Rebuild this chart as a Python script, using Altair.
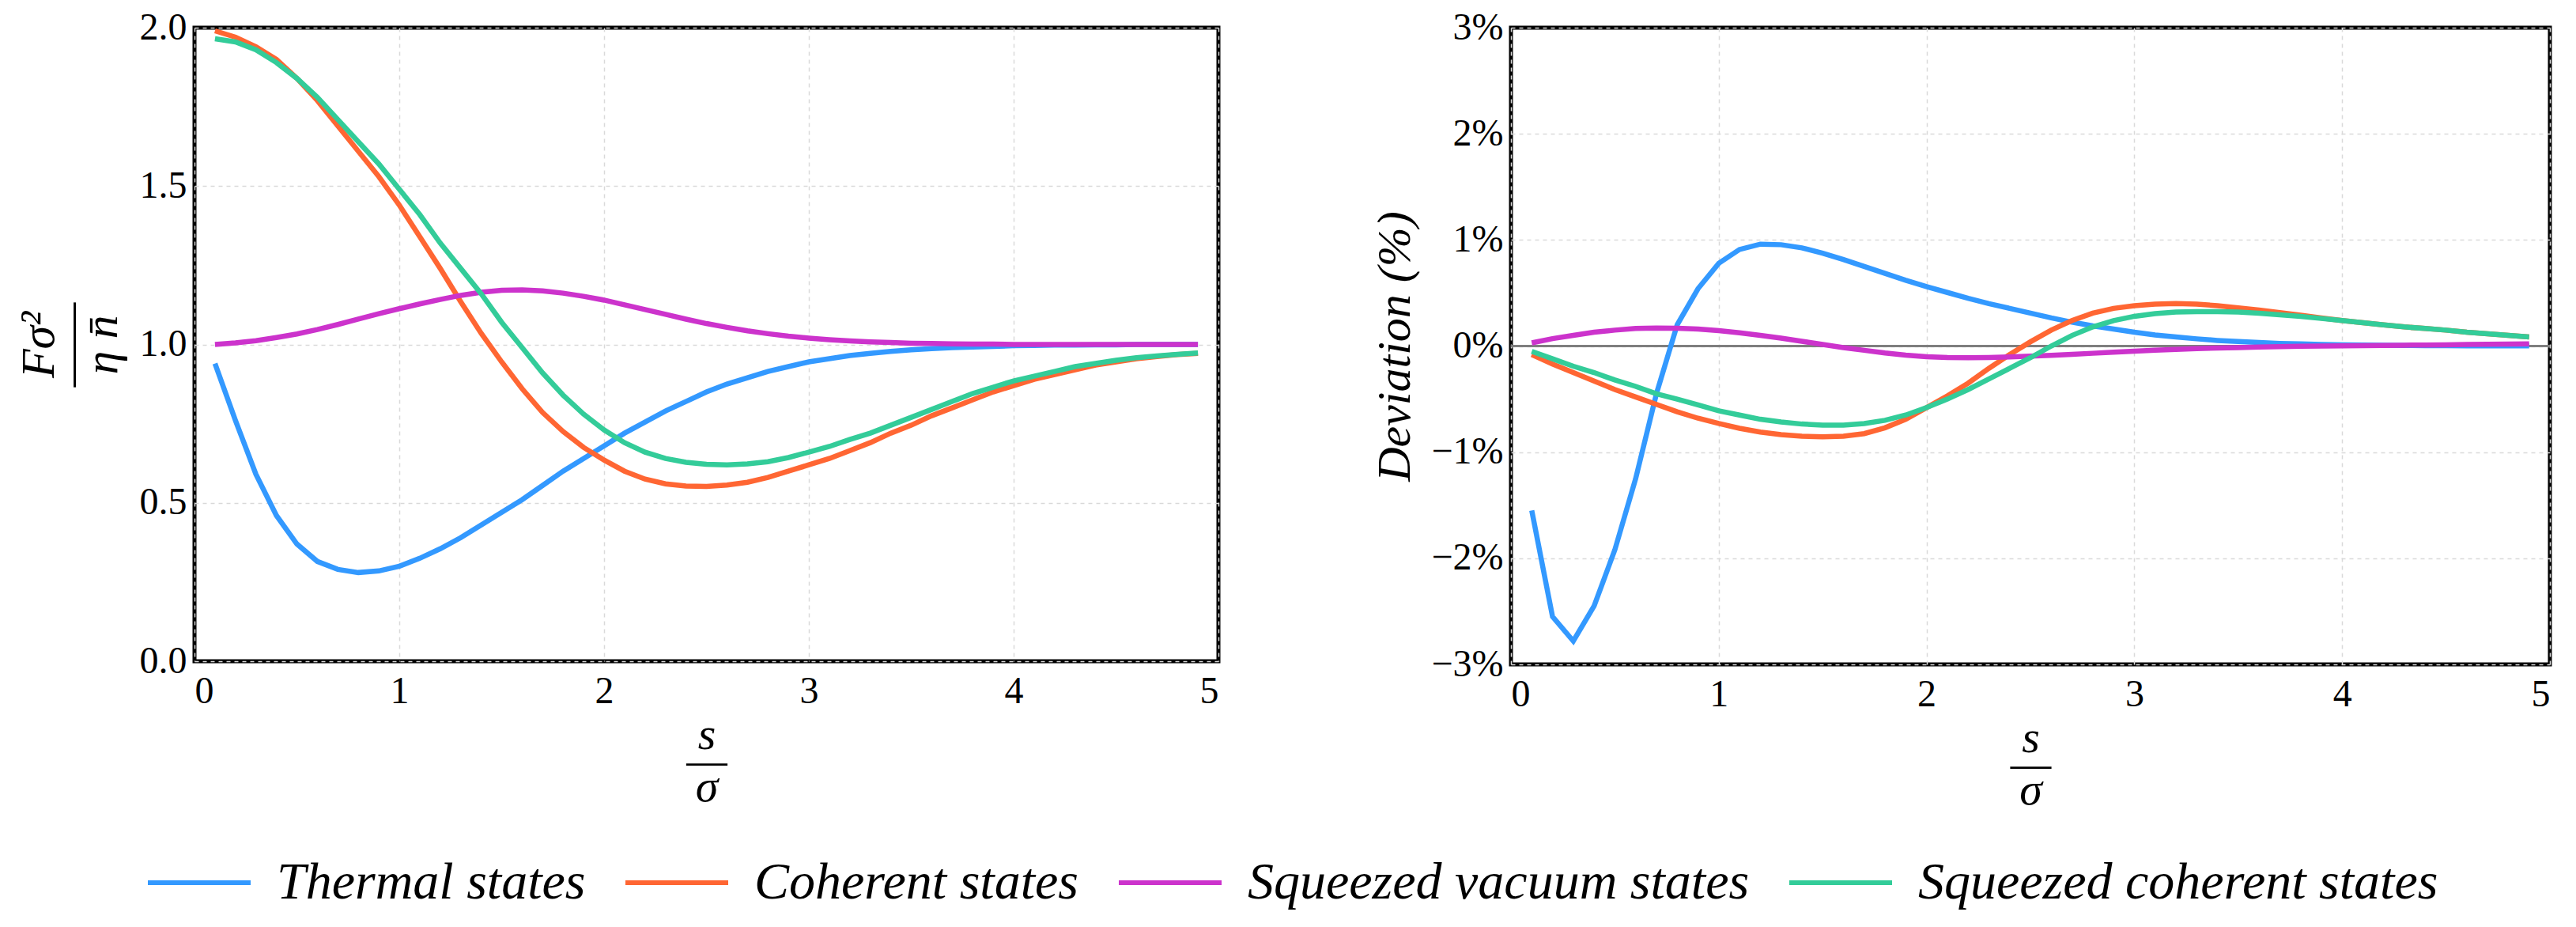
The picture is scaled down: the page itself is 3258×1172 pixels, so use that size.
import altair as alt
import pandas as pd

# s / sigma sample points
s_vals = [round(0.1 * i, 1) for i in range(1, 50)]

states = ["Thermal states", "Coherent states", "Squeezed vacuum states",
          "Squeezed coherent states"]
palette = ["#3399ff", "#ff6633", "#cc33cc", "#33cc99"]

# left panel: F sigma^2 / (eta nbar)
fisher_thermal = [
    0.94, 0.76, 0.59, 0.46, 0.37, 0.315, 0.29, 0.28, 0.285, 0.30,
    0.325, 0.355, 0.39, 0.43, 0.47, 0.51, 0.555, 0.60, 0.64, 0.68,
    0.72, 0.755, 0.79, 0.82, 0.85, 0.875, 0.895, 0.915, 0.93, 0.945,
    0.955, 0.965, 0.972, 0.978, 0.983, 0.987, 0.99, 0.992, 0.994, 0.996,
    0.997, 0.998, 0.998, 0.999, 0.999, 1.0, 1.0, 1.0, 1.0]
fisher_coherent = [
    1.99, 1.97, 1.94, 1.90, 1.84, 1.77, 1.69, 1.61, 1.53, 1.44,
    1.34, 1.24, 1.135, 1.035, 0.945, 0.86, 0.785, 0.725, 0.675, 0.635,
    0.60, 0.575, 0.56, 0.553, 0.552, 0.556, 0.565, 0.58, 0.60, 0.62,
    0.64, 0.665, 0.69, 0.72, 0.745, 0.775, 0.80, 0.825, 0.85, 0.87,
    0.89, 0.905, 0.92, 0.935, 0.945, 0.955, 0.962, 0.968, 0.972]
fisher_sq_vacuum = [
    1.0, 1.005, 1.012, 1.022, 1.033, 1.047, 1.063, 1.08, 1.097, 1.113,
    1.128, 1.142, 1.155, 1.165, 1.171, 1.172, 1.169, 1.162, 1.152, 1.14,
    1.125, 1.11, 1.095, 1.08, 1.066, 1.054, 1.043, 1.034, 1.026, 1.02,
    1.015, 1.011, 1.008, 1.006, 1.004, 1.003, 1.002, 1.001, 1.001, 1.0,
    1.0, 1.0, 1.0, 1.0, 1.0, 1.0, 1.0, 1.0, 1.0]
fisher_sq_coherent = [
    1.965, 1.955, 1.93, 1.89, 1.84, 1.78, 1.71, 1.64, 1.57, 1.49,
    1.41, 1.32, 1.24, 1.16, 1.07, 0.99, 0.91, 0.84, 0.78, 0.73,
    0.69, 0.66, 0.64, 0.628, 0.622, 0.62, 0.623, 0.63, 0.643, 0.66,
    0.678, 0.70, 0.72, 0.745, 0.77, 0.795, 0.82, 0.845, 0.865, 0.885,
    0.90, 0.915, 0.93, 0.94, 0.95, 0.958, 0.964, 0.969, 0.973]

# right panel: deviation in percent
dev_thermal = [
    -1.55, -2.55, -2.78, -2.45, -1.92, -1.25, -0.45, 0.20, 0.54, 0.78,
    0.91, 0.96, 0.955, 0.925, 0.875, 0.815, 0.75, 0.685, 0.62, 0.56,
    0.505, 0.45, 0.40, 0.355, 0.31, 0.265, 0.225, 0.19, 0.16, 0.13,
    0.105, 0.085, 0.068, 0.053, 0.042, 0.033, 0.025, 0.02, 0.015, 0.012,
    0.009, 0.007, 0.005, 0.004, 0.003, 0.002, 0.002, 0.001, 0.001]
dev_coherent = [
    -0.08, -0.17, -0.25, -0.33, -0.41, -0.48, -0.55, -0.62, -0.68, -0.73,
    -0.775, -0.81, -0.835, -0.85, -0.855, -0.85, -0.825, -0.77, -0.69, -0.58,
    -0.47, -0.35, -0.21, -0.08, 0.04, 0.15, 0.24, 0.31, 0.355, 0.38,
    0.395, 0.40, 0.395, 0.38, 0.36, 0.34, 0.315, 0.29, 0.265, 0.24,
    0.22, 0.2, 0.18, 0.165, 0.15, 0.13, 0.115, 0.1, 0.085]
dev_sq_vacuum = [
    0.03, 0.07, 0.10, 0.13, 0.15, 0.165, 0.17, 0.168, 0.16, 0.145,
    0.125, 0.10, 0.075, 0.045, 0.015, -0.015, -0.04, -0.065, -0.085, -0.10,
    -0.108, -0.11, -0.108, -0.103, -0.095, -0.087, -0.078, -0.068, -0.058, -0.048,
    -0.04, -0.032, -0.025, -0.019, -0.014, -0.009, -0.005, -0.002, 0.0, 0.002,
    0.004, 0.006, 0.008, 0.01, 0.012, 0.014, 0.016, 0.018, 0.02]
dev_sq_coherent = [
    -0.05, -0.12, -0.19, -0.25, -0.32, -0.38, -0.45, -0.50, -0.555, -0.61,
    -0.65, -0.69, -0.715, -0.735, -0.745, -0.745, -0.73, -0.70, -0.65, -0.58,
    -0.50, -0.41, -0.31, -0.21, -0.11, 0.0, 0.10, 0.18, 0.24, 0.28,
    0.305, 0.32, 0.325, 0.325, 0.32, 0.31, 0.295, 0.28, 0.26, 0.24,
    0.22, 0.2, 0.18, 0.165, 0.15, 0.13, 0.115, 0.1, 0.085]


def long_frame(series):
  return pd.concat([pd.DataFrame({"s": s_vals, "value": vals, "state": name})
                    for name, vals in zip(states, series)])


fisher_df = long_frame([fisher_thermal, fisher_coherent, fisher_sq_vacuum,
                        fisher_sq_coherent])
dev_df = long_frame([dev_thermal, dev_coherent, dev_sq_vacuum, dev_sq_coherent])

FONT = "Liberation Serif"
grid = dict(grid=True, gridColor="#d9d9d9", gridDash=[5, 5], gridWidth=1.5,
            ticks=False, domain=False, labelFont=FONT, labelFontSize=48,
            labelColor="black", titleFont=FONT, titleFontStyle="italic",
            titleFontWeight="normal", titleColor="black")

x_enc = alt.X("s:Q", scale=alt.Scale(domain=[0, 5], nice=False),
              axis=alt.Axis(values=[0, 1, 2, 3, 4, 5], format="d",
                            labelPadding=14, title=["s", "\u2014", "\u03c3"],
                            titleFontSize=58, titleLineHeight=33,
                            titlePadding=2, **grid))

color_enc = alt.Color(
    "state:N", scale=alt.Scale(domain=states, range=palette),
    legend=alt.Legend(title=None, orient="none", direction="horizontal",
                      legendX=-62, legendY=1013, symbolType="stroke",
                      symbolSize=16900, symbolStrokeWidth=6,
                      labelFont=FONT, labelFontStyle="italic",
                      labelFontSize=66, labelColor="black", labelOffset=30,
                      columnPadding=38, labelLimit=0))

left = (alt.Chart(fisher_df).mark_line(strokeWidth=6.5)
        .encode(
            x=x_enc,
            y=alt.Y("value:Q", scale=alt.Scale(domain=[0, 2], nice=False),
                    axis=alt.Axis(values=[0, 0.5, 1, 1.5, 2], format=".1f",
                                  labelPadding=10,
                                  title=["F\u03c3\u00b2", "\u2014\u2014",
                                         "\u03b7 n\u0304"],
                                  titleFontSize=60, titleLineHeight=40,
                                  titlePadding=16, **grid)),
            color=color_enc, order="s:Q")
        .properties(width=1295, height=801))

zero_line = (alt.Chart(dev_df).mark_rule(color="#7f7f7f", strokeWidth=2)
             .encode(y=alt.datum(0)))

dev_lines = (alt.Chart(dev_df).mark_line(strokeWidth=6.5)
             .encode(
                 x=x_enc,
                 y=alt.Y("value:Q", scale=alt.Scale(domain=[-3, 3], nice=False),
                         axis=alt.Axis(values=[-3, -2, -1, 0, 1, 2, 3],
                                       labelExpr="format(datum.value, 'd') + '%'",
                                       labelPadding=10, title="Deviation (%)",
                                       titleFontSize=60, titlePadding=14,
                                       **grid)),
                 color=color_enc, order="s:Q"))

right = alt.layer(zero_line, dev_lines).properties(width=1314, height=805)

chart = (alt.hconcat(left, right, spacing=188)
         .resolve_scale(y="independent", color="shared")
         .properties(padding={"left": 8, "top": 0, "right": 5, "bottom": 5})
         .configure_view(stroke="black", strokeWidth=5))

chart.save("out.html", embed_options={"renderer": "svg", "actions": False})
